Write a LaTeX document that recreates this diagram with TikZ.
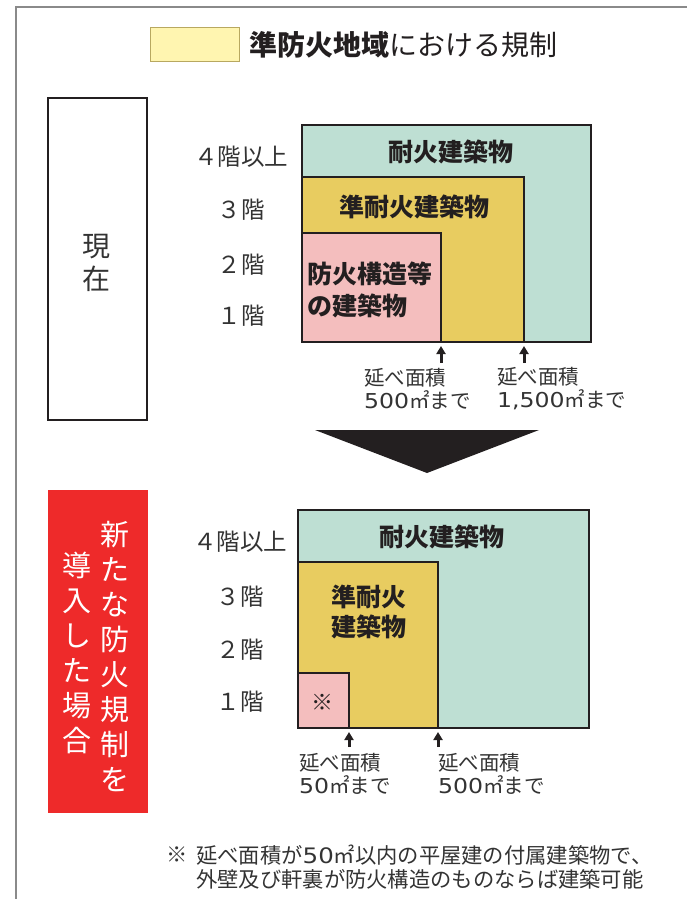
\documentclass[tikz,border=0pt]{standalone}
\usepackage{fontspec}
\usetikzlibrary{arrows.meta}
\newfontfamily\jp{Noto Sans CJK JP}
\newfontfamily\digfont{DejaVu Sans}[FakeStretch=1.15]
\newcommand\dgt[1]{{\digfont #1}}
\definecolor{txt}{HTML}{333333}
\definecolor{dark}{HTML}{231F20}
\definecolor{fgreen}{HTML}{BEDFD3}
\definecolor{fyellow}{HTML}{E8CC60}
\definecolor{fpink}{HTML}{F4BEBE}
\definecolor{legend}{HTML}{FFF5B0}
\definecolor{legendb}{HTML}{B8A860}
\definecolor{fred}{HTML}{EE2A2A}
\definecolor{frame}{HTML}{8A8A8A}
\tikzset{
  lbl/.style={font=\jp\fontsize{23.5}{23.5}\selectfont, text=txt, inner sep=0pt},
  bld/.style={font=\jp\bfseries\fontsize{25}{32}\selectfont, text=dark, inner sep=0pt},
  area/.style={font=\jp\fontsize{20.5}{23}\selectfont, text=txt, inner sep=0pt, align=left, anchor=west},
  zone/.style={draw=dark, line width=1.6pt},
  uparrow/.style={-{Triangle[length=8pt,width=9pt]}, line width=3pt, draw=dark, fill=dark},
  vtext/.style={font=\jp\fontsize{29}{35}\selectfont, inner sep=0pt, align=center},
  foot/.style={anchor=west, inner sep=0pt, text=txt, font=\jp\fontsize{21.3}{21.3}\selectfont},
}
\begin{document}
\begin{tikzpicture}[x=1pt,y=-1pt]
\useasboundingbox (0,0) rectangle (687,899);
% frame
\draw[frame, line width=1.6pt] (16,899) -- (16,7) -- (687,7);
% title
\draw[fill=legend, draw=legendb, line width=1pt] (150,28) rectangle (239,62);
\node[anchor=west, inner sep=0pt, text=dark, font=\jp\fontsize{28}{28}\selectfont] (title) at (249,45) {{\bfseries 準防火地域}における規制};

% current box
\draw[dark, line width=2.4pt] (48,98) rectangle (147,420);
\node[vtext, font=\jp\fontsize{28}{33}\selectfont, text=txt] (genzai) at (96,263) {現\\在};

% top diagram
\draw[zone, fill=fgreen] (302,125) rectangle (591,342);
\draw[zone, fill=fyellow] (302,177) rectangle (524,342);
\draw[zone, fill=fpink] (302,233) rectangle (441,342);
\node[lbl] (t4) at (241,157) {４階以上};
\node[lbl] (t3) at (241,210) {３階};
\node[lbl] (t2) at (241,265) {２階};
\node[lbl] (t1) at (241,316) {１階};
\node[bld] (tA) at (451,152) {耐火建築物};
\node[bld] (tB) at (414,207) {準耐火建築物};
\node[bld, align=left, anchor=west] (tC) at (307,290) {防火構造等\\の建築物};
\coordinate (ta1s) at (441,363);
\coordinate (ta1e) at (441,346);
\coordinate (ta2s) at (524,363);
\coordinate (ta2e) at (524,346);
\draw[uparrow] (ta1s) -- (ta1e);
\draw[uparrow] (ta2s) -- (ta2e);
\node[area] (tl1) at (364,388.5) {延べ面積\\\dgt{500}㎡まで};
\node[area] (tl2) at (497,388.5) {延べ面積\\\dgt{1,500}㎡まで};

% down triangle
\fill[dark] (315,430) -- (539,430) -- (427,473) -- cycle;

% new regulation box
\fill[fred] (48,490) rectangle (148,813);
\node[vtext, text=white] (n1) at (115,657) {新\\た\\な\\防\\火\\規\\制\\を};
\node[vtext, text=white] (n2) at (77,652.5) {導\\入\\し\\た\\場\\合};

% bottom diagram
\draw[zone, fill=fgreen] (298,510) rectangle (589,728);
\draw[zone, fill=fyellow] (298,562) rectangle (438,728);
\draw[zone, fill=fpink] (298,673) rectangle (349,728);
\node[lbl] (b4) at (240,542) {４階以上};
\node[lbl] (b3) at (240,597) {３階};
\node[lbl] (b2) at (240,650) {２階};
\node[lbl] (b1) at (240,702) {１階};
\node[bld] (bA) at (442,537) {耐火建築物};
\node[bld, align=center, font=\jp\bfseries\fontsize{25}{30}\selectfont] (bB) at (369,612) {準耐火\\建築物};
\node[inner sep=0pt, text=dark, font=\jp\bfseries\fontsize{22}{22}\selectfont] (bC) at (322,702) {※};
\coordinate (ba1s) at (349,747);
\coordinate (ba1e) at (349,732);
\coordinate (ba2s) at (438,747);
\coordinate (ba2e) at (438,732);
\draw[uparrow] (ba1s) -- (ba1e);
\draw[uparrow] (ba2s) -- (ba2e);
\node[area] (bl1) at (299,774) {延べ面積\\\dgt{50}㎡まで};
\node[area] (bl2) at (438,774) {延べ面積\\\dgt{500}㎡まで};

% footnote
\node[foot] (fn0) at (166,855) {※};
\node[foot] (fn1) at (196,855) {延べ面積が\dgt{50}㎡以内の平屋建の付属建築物で、};
\node[foot] (fn2) at (196,879) {外壁及び軒裏が防火構造のものならば建築可能};
\end{tikzpicture}
\end{document}
